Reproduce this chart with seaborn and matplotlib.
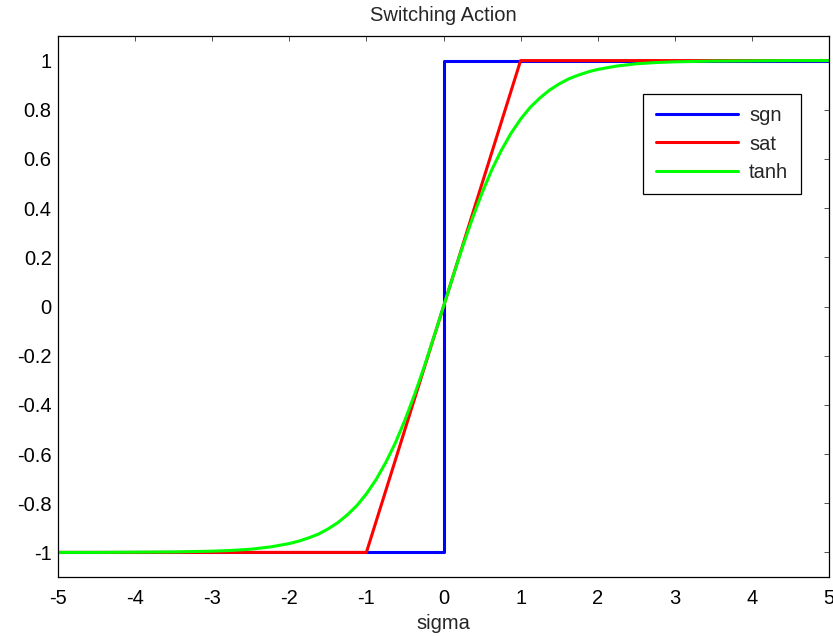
import matplotlib
matplotlib.use("Agg")
import matplotlib.pyplot as plt
import seaborn as sns
import pandas as pd

# Switching functions used in sliding-mode control
sgn_x = [-5, 0, 0, 5]
sgn_y = [-1, -1, 1, 1]

sat_x = [-5, -1, 1, 5]
sat_y = [-1, -1, 1, 1]

tanh_x = [-5.0, -4.5, -4.0, -3.5, -3.0, -2.75, -2.5, -2.25,
          -2.0, -1.875, -1.75, -1.625, -1.5, -1.375, -1.25, -1.125,
          -1.0, -0.875, -0.75, -0.625, -0.5, -0.375, -0.25, -0.125,
          0.0,
          0.125, 0.25, 0.375, 0.5, 0.625, 0.75, 0.875, 1.0,
          1.125, 1.25, 1.375, 1.5, 1.625, 1.75, 1.875, 2.0,
          2.25, 2.5, 2.75, 3.0, 3.5, 4.0, 4.5, 5.0]
tanh_y = [-1.000, -1.000, -0.999, -0.998, -0.995, -0.992, -0.987, -0.978,
          -0.964, -0.954, -0.941, -0.926, -0.905, -0.880, -0.848, -0.810,
          -0.762, -0.704, -0.635, -0.555, -0.462, -0.358, -0.245, -0.124,
          0.000,
          0.124, 0.245, 0.358, 0.462, 0.555, 0.635, 0.704, 0.762,
          0.810, 0.848, 0.880, 0.905, 0.926, 0.941, 0.954, 0.964,
          0.978, 0.987, 0.992, 0.995, 0.998, 0.999, 1.000, 1.000]

x_ticks = [-5, -4, -3, -2, -1, 0, 1, 2, 3, 4, 5]
y_ticks = [-1, -0.8, -0.6, -0.4, -0.2, 0, 0.2, 0.4, 0.6, 0.8, 1]
y_tick_labels = ["-1", "-0.8", "-0.6", "-0.4", "-0.2", "0", "0.2", "0.4", "0.6", "0.8", "1"]
x_tick_labels = [str(v) for v in x_ticks]

sns.set_style("white")
plt.rcParams["font.family"] = ["Liberation Sans", "DejaVu Sans"]

FS = 14.5

fig = plt.figure(figsize=(8.33, 6.36), dpi=100)
ax = fig.add_axes([58 / 833, 59 / 636, 771 / 833, 541 / 636])

series = [
    (sgn_x, sgn_y, "sgn", "#0000ff"),
    (sat_x, sat_y, "sat", "#ff0000"),
    (tanh_x, tanh_y, "tanh", "#00ff00"),
]
for xs, ys, name, col in series:
    df = pd.DataFrame({"x": xs, "y": ys})
    sns.lineplot(data=df, x="x", y="y", ax=ax, estimator=None, sort=False,
                 color=col, linewidth=2.2, label=name)

ax.set_xlim(-5, 5)
ax.set_ylim(-1.1, 1.1)
ax.set_xticks(x_ticks)
ax.set_xticklabels(x_tick_labels)
ax.set_yticks(y_ticks)
ax.set_yticklabels(y_tick_labels)
ax.tick_params(axis="both", direction="in", length=3.5, width=0.6, color="#333333",
               labelsize=FS, top=True, right=True, labelcolor="black")
ax.tick_params(axis="x", pad=8.5)
ax.tick_params(axis="y", pad=4.5)
for sp in ax.spines.values():
    sp.set_visible(True)
    sp.set_color("black")
    sp.set_linewidth(0.9)

ax.set_title("Switching Action", fontsize=FS, pad=10.5)
ax.set_xlabel("sigma", fontsize=FS, labelpad=4.5)
ax.set_ylabel("")

leg = ax.legend(loc="upper left", bbox_to_anchor=(0.7588, 0.8928), borderaxespad=0,
                fontsize=FS, handlelength=4.1, handletextpad=0.55, labelspacing=0.45,
                borderpad=0.62, fancybox=False, framealpha=1, edgecolor="black")
leg.get_frame().set_linewidth(0.9)

fig.savefig("out.png", dpi=100)
